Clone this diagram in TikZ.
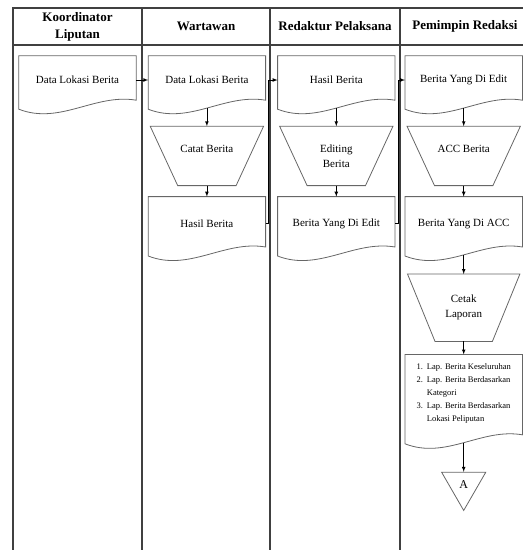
\documentclass[tikz,border=0pt]{standalone}
\usepackage{fontspec}
\setmainfont{Liberation Serif}
\usepackage{tikz}
\usetikzlibrary{positioning,calc,shapes.geometric}
\usetikzlibrary{arrows}
\begin{document}
\begin{tikzpicture}[x=1pt,y=1pt]
\tikzstyle{lane}=[draw=black!75, line width=1.1pt]
\tikzstyle{head}=[font=\fontsize{13}{17}\selectfont\bfseries, align=center]
\tikzstyle{doc}=[rectangle, minimum width=117pt, minimum height=48pt, inner sep=2pt, font=\fontsize{11}{13}\selectfont, align=center]
\tikzstyle{manual}=[rectangle, minimum width=113pt, minimum height=59pt, inner sep=2pt, font=\fontsize{11}{15}\selectfont, align=center]
\tikzstyle{outline}=[draw=black!60, line width=0.8pt]
\tikzstyle{offpage}=[regular polygon, regular polygon sides=3, shape border rotate=180, minimum size=51pt, inner sep=0pt, outline, font=\fontsize{12}{14}\selectfont]
\tikzstyle{connect}=[-latex, line width=0.7pt]

\clip (0,0) rectangle (523,-550);
\draw[lane] (13,-550) -- (13,-8) -- (530,-8);
\draw[lane] (13,-45) -- (530,-45);
\foreach \x in {142,270,400} \draw[lane] (\x,-8) -- (\x,-550);

  \node[head] (hK) at (77.5,-26.5) {Koordinator\\Liputan};
  \node[head] (hW) at (206,-26.5) {Wartawan};
  \node[head] (hR) at (335,-26.5) {Redaktur Pelaksana};
  \node[head] (hP) at (465,-26.5) {Pemimpin Redaksi};

  \node[doc] (dlK) at (77.5,-80) {Data Lokasi Berita};
  \node[doc] (dlW) [right=12pt of dlK] {Data Lokasi Berita};
  \node[doc] (hbR) [right=12pt of dlW] {Hasil Berita};
  \node[doc] (edP) [right=10pt of hbR] {Berita Yang Di Edit};

  \node[manual, text depth=14pt] (catat) [below=22pt of dlW] {Catat Berita};
  \node[doc, minimum height=54pt] (hbW) [below=11pt of catat] {Hasil Berita};
  \node[manual] (edit) [below=22pt of hbR] {Editing\\Berita};
  \node[doc, minimum height=54pt] (edR) [below=11pt of edit] {Berita Yang Di Edit};
  \node[manual, text depth=14pt] (acc) [below=22pt of edP] {ACC Berita};
  \node[doc, minimum height=54pt] (accP) [below=11pt of acc] {Berita Yang Di ACC};
  \node[manual, minimum height=67pt, minimum width=112pt] (cetak) [below=23pt of accP] {Cetak\\Laporan};
  \node[doc, minimum height=84pt, font=\fontsize{8.5}{13}\selectfont] (lap) [below=13pt of cetak]
    {\begin{tabular}{@{}l@{\hspace{4pt}}l@{}}
     1. & Lap. Berita Keseluruhan\\
     2. & Lap. Berita Berdasarkan\\
        & Kategori\\
     3. & Lap. Berita Berdasarkan\\
        & Lokasi Peliputan
     \end{tabular}\\[7pt]};
  \node[offpage] (A) [below=33pt of lap] {A};

\foreach \n in {dlK,dlW,hbR,edP,hbW,edR,accP,lap}
  \draw[outline] ([yshift=-5pt]\n.south west) -- (\n.north west) -- (\n.north east) -- ([yshift=4pt]\n.south east)
    .. controls ($(\n.south west)!0.65!(\n.south east)+(0,11)$) and ($(\n.south west)!0.35!(\n.south east)+(0,-21)$) .. ([yshift=-5pt]\n.south west) -- cycle;
\foreach \n in {catat,edit,acc,cetak}
  \draw[outline] (\n.north west) -- (\n.north east) -- ([xshift=-27.5pt]\n.south east) -- ([xshift=27.5pt]\n.south west) -- cycle;

  \path (dlK) edge [connect] (dlW);
  \draw[connect] ([yshift=-4pt]dlW.south) -- (catat.north);
  \draw[connect] (catat.south) -- (hbW.north);
  \draw[connect] (hbW.east) -- ++(3,0) |- (hbR.west);
  \draw[connect] ([yshift=-4pt]hbR.south) -- (edit.north);
  \draw[connect] (edit.south) -- (edR.north);
  \draw[connect] (edR.east) -- ++(3,0) |- (edP.west);
  \draw[connect] ([yshift=-4pt]edP.south) -- (acc.north);
  \draw[connect] (acc.south) -- (accP.north);
  \draw[connect] ([yshift=-4pt]accP.south) -- (cetak.north);
  \draw[connect] (cetak.south) -- (lap.north);
  \draw[connect] ([yshift=-4pt]lap.south) -- (A.north);
\end{tikzpicture}
\end{document}
